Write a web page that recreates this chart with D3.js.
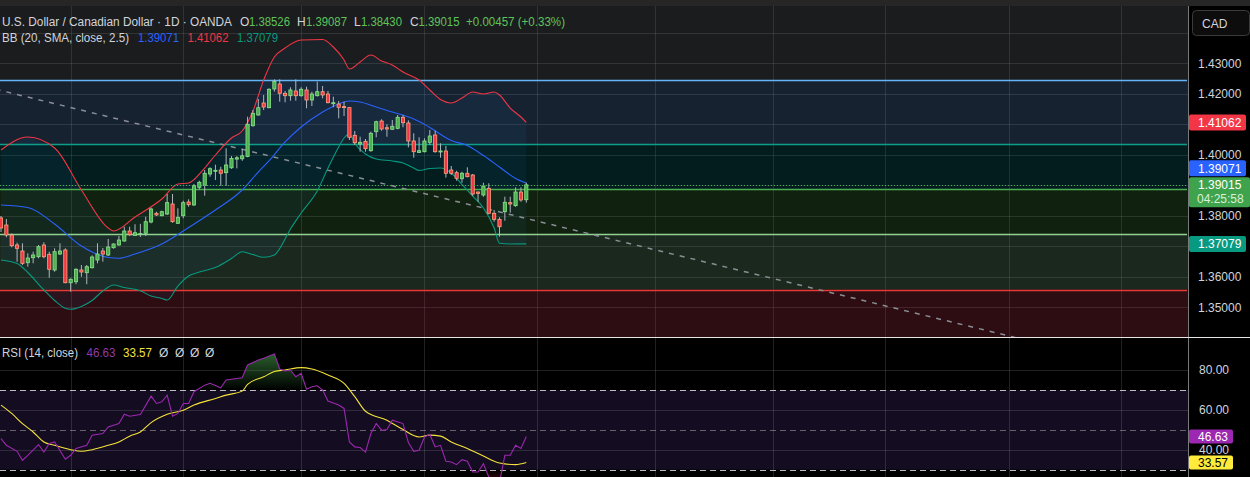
<!DOCTYPE html>
<html>
<head>
<meta charset="utf-8">
<script src="https://cdn.jsdelivr.net/npm/d3@7"></script>
<style>
body { margin:0; background:#000; overflow:hidden; }
text { font-family:"Liberation Sans", Arial, sans-serif; }
</style>
</head>
<body>
<div id="container"></div>
<script>
// daily candles, USD/CAD (bar 0 = first visible bar)
var opens = [1.3793,1.37698,1.3737,1.37043,1.36846,1.36462,1.36626,1.36659,1.37043,1.36738,
	1.36223,1.36747,1.36879,1.35806,1.35839,1.36223,1.36134,1.36298,1.36551,1.36846,
	1.36715,1.36954,1.37043,1.37174,1.37501,1.3736,1.3739,1.37426,1.37797,1.38082,
	1.38003,1.38059,1.38387,1.37754,1.38003,1.38453,1.38354,1.38934,1.39,1.39371,
	1.39459,1.39502,1.39414,1.39574,1.39859,1.39869,1.39941,1.40954,1.41305,1.41698,
	1.41544,1.42157,1.42321,1.42016,1.41938,1.42092,1.41938,1.42125,1.41797,1.41938,
	1.42069,1.41994,1.41689,1.41665,1.4158,1.41547,1.40639,1.40354,1.40442,1.40134,
	1.40757,1.41108,1.40888,1.40836,1.40869,1.4123,1.41043,1.40453,1.40079,1.40101,
	1.4041,1.40649,1.40092,1.40125,1.39502,1.39414,1.39216,1.39394,1.39338,1.3878,
	1.38682,1.38902,1.38082,1.37885,1.38134,1.3843,1.38331,1.3878,1.38526];
var highs = [1.37993,1.37895,1.37426,1.37118,1.37098,1.3677,1.36823,1.37043,1.37131,1.36823,
	1.36934,1.37098,1.36934,1.35951,1.36279,1.36387,1.36387,1.36705,1.37098,1.36944,
	1.37239,1.37098,1.37338,1.37642,1.37642,1.37721,1.37737,1.3797,1.38266,1.38134,
	1.38167,1.38715,1.38715,1.38246,1.38495,1.38541,1.39043,1.39151,1.39502,1.39591,
	1.39676,1.39607,1.40213,1.39958,1.39958,1.402,1.41249,1.41469,1.41829,1.41961,
	1.4218,1.42475,1.42475,1.42092,1.42213,1.42475,1.42213,1.42233,1.42069,1.42397,
	1.42256,1.42092,1.41905,1.41764,1.41741,1.41557,1.4078,1.40593,1.40518,1.40757,
	1.41118,1.41164,1.41,1.41141,1.41305,1.41305,1.41131,1.40705,1.40574,1.40541,
	1.40813,1.4079,1.40377,1.40289,1.39633,1.39479,1.39446,1.3959,1.39371,1.38797,
	1.39085,1.39066,1.3819,1.37951,1.38626,1.38626,1.38934,1.38934,1.39087];
var lows = [1.37469,1.37295,1.36967,1.36495,1.36387,1.36331,1.36442,1.36606,1.36606,1.3597,
	1.36167,1.36715,1.35787,1.35511,1.35757,1.36003,1.35757,1.36272,1.36442,1.36495,
	1.36682,1.36921,1.3702,1.37151,1.37338,1.37338,1.37305,1.37338,1.37754,1.37993,
	1.37984,1.38026,1.37774,1.37731,1.37918,1.38298,1.38331,1.38869,1.38659,1.39282,
	1.39174,1.38987,1.38987,1.39541,1.39554,1.39803,1.39921,1.40921,1.41282,1.41469,
	1.41525,1.42069,1.41741,1.41721,1.41774,1.41774,1.41905,1.41525,1.416,1.41912,
	1.41849,1.41689,1.41557,1.41196,1.41272,1.40485,1.40321,1.40101,1.40101,1.40101,
	1.40574,1.4079,1.40593,1.40813,1.40836,1.40902,1.40245,1.39905,1.40059,1.40079,
	1.40321,1.40069,1.39905,1.39253,1.39338,1.39151,1.39085,1.39262,1.38649,1.38459,
	1.38626,1.38049,1.37806,1.37318,1.37839,1.38102,1.38298,1.38462,1.3843];
var closes = [1.376,1.3737,1.3702,1.36934,1.36442,1.36616,1.36715,1.36987,1.36659,1.36246,
	1.36823,1.36846,1.35806,1.35918,1.36246,1.36157,1.36331,1.36649,1.36747,1.36747,
	1.36977,1.37075,1.37207,1.37501,1.3738,1.37445,1.3742,1.37806,1.38223,1.38026,
	1.38134,1.3843,1.37806,1.37951,1.3843,1.38364,1.38987,1.39098,1.39394,1.39545,
	1.39492,1.39394,1.39666,1.39882,1.39902,1.39967,1.41,1.41361,1.41544,1.41567,
	1.42148,1.42403,1.42016,1.41938,1.42125,1.41938,1.42148,1.41797,1.41994,1.42069,
	1.41961,1.41708,1.41708,1.41557,1.41547,1.40574,1.40396,1.4041,1.402,1.40705,
	1.41085,1.40846,1.40846,1.40934,1.4123,1.41052,1.40453,1.40101,1.40134,1.40453,
	1.40616,1.40101,1.40125,1.39394,1.39394,1.3923,1.39394,1.39282,1.38715,1.38737,
	1.38977,1.38082,1.37885,1.37642,1.38443,1.38387,1.3878,1.38518,1.39015];

// Bollinger Bands (20, 2.5) at these bars
var upperIdx = [0,5,10,15,20,21,25,30,33,35,38,40,43,45,47,49,51,53,56,60,62,64,65,67,69,71,73,75,78,80,82,84,86,88,90,92,93,95,97,98];
var upperVal = [1.40157,1.40584,1.40223,1.38846,1.376,1.37502,1.37961,1.38551,1.39043,1.39075,1.39567,1.39993,1.40551,1.4078,1.41436,1.42452,1.43207,1.43502,1.43764,1.4378,1.43534,1.43108,1.42813,1.43043,1.43272,1.43075,1.42944,1.42715,1.42452,1.42125,1.41813,1.41698,1.41862,1.42059,1.41993,1.42059,1.41961,1.41534,1.41239,1.41062];
var basisIdx = [0,5,10,15,20,22,25,30,35,40,45,48,50,53,56,60,63,65,67,70,73,75,78,80,84,87,90,93,96,98];
var basisVal = [1.38354,1.38272,1.37731,1.3701,1.36633,1.36607,1.36748,1.37075,1.37616,1.3819,1.38846,1.39436,1.39797,1.4042,1.40911,1.41403,1.41666,1.41764,1.41731,1.41567,1.41403,1.41305,1.41092,1.40895,1.40469,1.40305,1.39977,1.396,1.39223,1.39071];
var lowerIdx = [0,3,5,8,10,12,13,15,17,19,21,23,26,28,30,31,33,35,37,40,43,45,47,49,51,52,54,56,59,61,63,64,65,66,68,70,73,75,77,78,80,82,84,86,88,90,92,93,95,98];
var lowerVal = [1.36551,1.36436,1.36141,1.35567,1.35223,1.34967,1.34934,1.35026,1.35223,1.35534,1.35731,1.35649,1.35541,1.3537,1.35289,1.35239,1.35698,1.36026,1.36157,1.36305,1.366,1.3682,1.36731,1.36639,1.36715,1.36928,1.37567,1.38092,1.38813,1.39567,1.40256,1.40551,1.40682,1.4037,1.40026,1.39862,1.39797,1.39731,1.39567,1.39485,1.39551,1.39567,1.39403,1.39026,1.38649,1.38256,1.376,1.37098,1.37075,1.37079];

// RSI (14) and its moving average
var rsiIdx = [0,1,3,4,5,7,8,9,10,12,13,14,16,17,19,20,22,23,24,26,28,29,30,31,32,33,34,35,36,38,39,41,42,45,46,48,49,51,52,53,54,55,56,57,58,59,60,61,63,64,65,66,67,68,69,70,71,72,73,75,76,77,78,79,80,81,82,83,84,85,86,87,88,89,90,91,92,93,94,95,96,97,98];
var rsiVal = [45.6,42.2,39.2,34.7,37.2,42.6,38.8,43.1,43.9,35.2,37.2,40.6,42.2,47.3,48.1,51.4,53.1,57.8,56.8,57.7,66.9,63.2,64.0,67.4,56.8,58.2,63.2,63.2,69.1,72.4,73.3,71.1,75.0,76.1,82.5,85.0,85.9,88.1,80.5,79.5,80.0,76.6,78.3,70.4,71.6,72.1,69.9,64.4,62.4,60.7,43.9,41.4,41.1,38.8,48.1,53.1,49.8,50.1,54.8,53.1,43.6,39.2,39.7,46.4,47.6,41.4,42.2,34.2,33.8,32.5,35.0,34.2,28.8,28.8,33.0,26.3,24.8,23.5,37.2,37.2,42.2,40.6,46.63];
var maIdx = [0,2,4,6,8,10,13,15,17,20,22,24,26,28,31,34,36,40,42,45,46,49,51,53,56,58,61,64,66,68,72,75,78,80,82,84,87,90,93,96,98];
var maVal = [62.4,58.2,53.1,48.9,43.9,42.2,40.0,39.2,40.0,42.2,43.9,46.8,48.9,53.6,57.8,59.8,62.4,65.7,67.4,69.4,72.8,76.6,79.2,80.0,81.2,80.5,77.5,73.3,66.6,59.3,54.8,50.1,46.4,47.3,46.8,43.9,40.6,36.8,33.3,32.5,33.57];

// horizontal levels drawn on the chart, top to bottom
var levelPrices = [1.42443, 1.40344, 1.38869, 1.37413, 1.35577];
var levelColors = ["#64b5f6", "#0d9e8a", "#4caf50", "#8fd18f", "#e53935"];
var zoneColors = ["#172231", "#031c1e", "#112110", "#1b281d", "#2d0c12"];
// dashed trend line anchors (bar, price)
var trendBars = [-1, 190];
var trendPrices = [1.42148, 1.33977];

var gridPrices = [1.44, 1.43, 1.42, 1.41, 1.40, 1.39, 1.38, 1.37, 1.36, 1.35];
var priceTicks = [1.43, 1.42, 1.40, 1.38, 1.36, 1.35];
var monthBars = [13, 34, 56, 79, 100, 122, 144, 165, 188, 209];
var rsiGrid = [80, 60, 40];
var rsiLevels = [70, 50, 30];

var W = 1250, H = 477;
var plotW = 1188, paneTop = 6, paneBot = 337, rsiTop = 338;
var FS = 12;

var svg = d3.select("#container").append("svg")
	.attr("width", W)
	.attr("height", H);

var x = d3.scaleLinear().domain([0, 98]).range([1, 526.3]);
var y = d3.scaleLinear().domain([1.35, 1.43]).range([307.3, 63.3]);
var yr = d3.scaleLinear().domain([40, 80]).range([449.7, 370]);

var defs = svg.append("defs");
defs.append("clipPath").attr("id", "clipPrice").append("rect")
	.attr("x", 0).attr("y", paneTop).attr("width", plotW).attr("height", paneBot - paneTop);
defs.append("clipPath").attr("id", "clipRsi").append("rect")
	.attr("x", 0).attr("y", rsiTop).attr("width", plotW).attr("height", H - rsiTop);
defs.append("clipPath").attr("id", "clipOB").append("rect")
	.attr("x", 0).attr("y", rsiTop).attr("width", plotW).attr("height", yr(70) - rsiTop);
defs.append("clipPath").attr("id", "clipOS").append("rect")
	.attr("x", 0).attr("y", yr(30)).attr("width", plotW).attr("height", H - yr(30));

var gOB = defs.append("linearGradient").attr("id", "gradOB")
	.attr("gradientUnits", "userSpaceOnUse").attr("x1", 0).attr("x2", 0)
	.attr("y1", yr(90)).attr("y2", yr(70));
gOB.append("stop").attr("offset", 0).attr("stop-color", "rgba(76,175,80,0.6)");
gOB.append("stop").attr("offset", 1).attr("stop-color", "rgba(76,175,80,0)");
var gOS = defs.append("linearGradient").attr("id", "gradOS")
	.attr("gradientUnits", "userSpaceOnUse").attr("x1", 0).attr("x2", 0)
	.attr("y1", yr(30)).attr("y2", yr(15));
gOS.append("stop").attr("offset", 0).attr("stop-color", "rgba(242,54,69,0)");
gOS.append("stop").attr("offset", 1).attr("stop-color", "rgba(242,54,69,0.6)");

// backgrounds
svg.append("rect").attr("width", W).attr("height", H).attr("fill", "#000");
svg.append("rect").attr("width", W).attr("height", paneTop).attr("fill", "#262626");
svg.append("rect").attr("x", 0).attr("y", paneTop).attr("width", plotW).attr("height", paneBot - paneTop).attr("fill", "#1b1c1e");

// ---------- price pane ----------
var pp = svg.append("g").attr("clip-path", "url(#clipPrice)");

var zoneTops = levelPrices.map(function(p) { return y(p); });
pp.selectAll("rect.zone").data(zoneColors).enter().append("rect")
	.attr("x", 0)
	.attr("y", function(d, i) { return zoneTops[i]; })
	.attr("width", plotW)
	.attr("height", function(d, i) { return (i < zoneTops.length - 1 ? zoneTops[i + 1] : paneBot) - zoneTops[i]; })
	.attr("fill", function(d) { return d; });

pp.selectAll("line.hgrid").data(gridPrices).enter().append("line")
	.attr("x1", 0).attr("x2", plotW)
	.attr("y1", function(d) { return Math.round(y(d)) + 0.5; })
	.attr("y2", function(d) { return Math.round(y(d)) + 0.5; })
	.attr("stroke", "rgba(255,255,255,0.1)");
pp.selectAll("line.vgrid").data(monthBars).enter().append("line")
	.attr("x1", function(d) { return Math.round(x(d)) + 0.5; })
	.attr("x2", function(d) { return Math.round(x(d)) + 0.5; })
	.attr("y1", paneTop).attr("y2", paneBot)
	.attr("stroke", "rgba(255,255,255,0.1)");

// band fill
var upperPts = d3.zip(upperIdx, upperVal);
var basisPts = d3.zip(basisIdx, basisVal);
var lowerPts = d3.zip(lowerIdx, lowerVal);
var polyLine = d3.line().x(function(d) { return x(d[0]); }).y(function(d) { return y(d[1]); });
pp.append("path")
	.attr("d", polyLine(upperPts.concat(lowerPts.slice().reverse())) + "Z")
	.attr("fill", "rgba(33,150,243,0.06)");

pp.selectAll("line.level").data(levelPrices).enter().append("line")
	.attr("x1", 0).attr("x2", plotW - 1)
	.attr("y1", function(d) { return Math.round(y(d)) + 0.5; })
	.attr("y2", function(d) { return Math.round(y(d)) + 0.5; })
	.attr("stroke", function(d, i) { return levelColors[i]; })
	.attr("stroke-width", 1.3);

pp.append("line")
	.attr("x1", x(trendBars[0])).attr("y1", y(trendPrices[0]))
	.attr("x2", x(trendBars[1])).attr("y2", y(trendPrices[1]))
	.attr("stroke", "#8a8d96").attr("stroke-width", 1.5)
	.attr("stroke-dasharray", "5,6");

var smooth = d3.line().x(function(d) { return x(d[0]); }).y(function(d) { return y(d[1]); }).curve(d3.curveMonotoneX);
[[upperPts, "#f23645"], [basisPts, "#2962ff"], [lowerPts, "#089981"]].forEach(function(b) {
	pp.append("path").attr("d", smooth(b[0])).attr("fill", "none")
		.attr("stroke", b[1]).attr("stroke-width", 1.1);
});

var candles = opens.map(function(o, i) {
	return { i: i, o: o, h: highs[i], l: lows[i], c: closes[i] };
});
pp.selectAll("line.wick").data(candles).enter().append("line")
	.attr("x1", function(d) { return x(d.i); })
	.attr("x2", function(d) { return x(d.i); })
	.attr("y1", function(d) { return y(d.h); })
	.attr("y2", function(d) { return y(d.l); })
	.attr("stroke", "#b2b5be").attr("stroke-width", 1);
pp.selectAll("rect.body").data(candles).enter().append("rect")
	.attr("x", function(d) { return x(d.i) - 1.6; })
	.attr("width", 3.2)
	.attr("y", function(d) { return y(Math.max(d.o, d.c)); })
	.attr("height", function(d) { return Math.max(1, Math.abs(y(d.o) - y(d.c))); })
	.attr("fill", function(d) { return d.c >= d.o ? "#4caf50" : "#f23645"; })
	.attr("stroke", function(d) { return d.c >= d.o ? "#8be38b" : "#ffa47e"; })
	.attr("stroke-width", 0.8);

var lastClose = closes[closes.length - 1];
pp.append("line")
	.attr("x1", 0).attr("x2", plotW)
	.attr("y1", Math.round(y(lastClose)) + 0.5).attr("y2", Math.round(y(lastClose)) + 0.5)
	.attr("stroke", "#4caf50").attr("stroke-dasharray", "1,2");

// legend
function txt(g, s, tx, ty, col, size, fit) {
	var t = g.append("text").attr("x", tx).attr("y", ty).attr("fill", col)
		.attr("font-size", size || FS).text(s);
	if (fit) t.attr("textLength", fit).attr("lengthAdjust", "spacingAndGlyphs");
	return t;
}
var up = "#5ec45a", fg = "#d1d4dc";
txt(svg, "U.S. Dollar / Canadian Dollar \u00b7 1D \u00b7 OANDA", 2, 26, fg, FS, 230);
txt(svg, "O", 240, 26, fg); txt(svg, "1.38526", 249, 26, up, FS, 41);
txt(svg, "H", 297, 26, fg); txt(svg, "1.39087", 306, 26, up, FS, 41);
txt(svg, "L", 354, 26, fg); txt(svg, "1.38430", 361, 26, up, FS, 41);
txt(svg, "C", 410, 26, fg); txt(svg, "1.39015", 418.5, 26, up, FS, 41);
txt(svg, "+0.00457 (+0.33%)", 466, 26, up, FS, 99);
txt(svg, "BB (20, SMA, close, 2.5)", 2, 42, fg, FS, 127);
txt(svg, "1.39071", 138, 42, "#2962ff", FS, 41);
txt(svg, "1.41062", 187.5, 42, "#f23645", FS, 41);
txt(svg, "1.37079", 237, 42, "#089981", FS, 41);

// ---------- RSI pane ----------
var rp = svg.append("g").attr("clip-path", "url(#clipRsi)");
rp.append("rect").attr("x", 0).attr("y", yr(70)).attr("width", plotW)
	.attr("height", yr(30) - yr(70)).attr("fill", "#140c21");
rp.selectAll("line.rgrid").data(rsiGrid).enter().append("line")
	.attr("x1", 0).attr("x2", plotW)
	.attr("y1", function(d) { return Math.round(yr(d)) + 0.5; })
	.attr("y2", function(d) { return Math.round(yr(d)) + 0.5; })
	.attr("stroke", "rgba(255,255,255,0.13)");
rp.selectAll("line.rvgrid").data(monthBars).enter().append("line")
	.attr("x1", function(d) { return Math.round(x(d)) + 0.5; })
	.attr("x2", function(d) { return Math.round(x(d)) + 0.5; })
	.attr("y1", rsiTop).attr("y2", H)
	.attr("stroke", "rgba(255,255,255,0.13)");
rp.selectAll("line.rlevel").data(rsiLevels).enter().append("line")
	.attr("x1", 0).attr("x2", plotW)
	.attr("y1", function(d) { return Math.round(yr(d)) + 0.5; })
	.attr("y2", function(d) { return Math.round(yr(d)) + 0.5; })
	.attr("stroke", function(d) { return d === 50 ? "rgba(200,200,200,0.45)" : "rgba(220,220,220,0.85)"; })
	.attr("stroke-dasharray", "6,4");

var rsiPts = d3.zip(rsiIdx, rsiVal);
var maPts = d3.zip(maIdx, maVal);
var rsiArea70 = d3.area().x(function(d) { return x(d[0]); }).y0(yr(70)).y1(function(d) { return yr(d[1]); });
var rsiArea30 = d3.area().x(function(d) { return x(d[0]); }).y0(yr(30)).y1(function(d) { return yr(d[1]); });
rp.append("path").attr("d", rsiArea70(rsiPts)).attr("fill", "url(#gradOB)").attr("clip-path", "url(#clipOB)");
rp.append("path").attr("d", rsiArea30(rsiPts)).attr("fill", "url(#gradOS)").attr("clip-path", "url(#clipOS)");
var rline = d3.line().x(function(d) { return x(d[0]); }).y(function(d) { return yr(d[1]); });
rp.append("path").attr("d", rline.curve(d3.curveMonotoneX)(maPts)).attr("fill", "none")
	.attr("stroke", "#f5e33b").attr("stroke-width", 1.1);
rp.append("path").attr("d", rline.curve(d3.curveLinear)(rsiPts)).attr("fill", "none")
	.attr("stroke", "#9c27b0").attr("stroke-width", 1.1);

txt(svg, "RSI (14, close)", 2, 357, fg, FS, 76);
txt(svg, "46.63", 86.5, 357, "#8e3aa8", FS, 29);
txt(svg, "33.57", 123, 357, "#f5e33b", FS, 29);
[159, 175, 190, 205].forEach(function(px) { txt(svg, "\u00d8", px, 357, fg); });

// ---------- price axis ----------
svg.append("rect").attr("x", plotW).attr("y", paneTop).attr("width", W - plotW).attr("height", H - paneTop).attr("fill", "#000");
svg.append("line").attr("x1", plotW + 0.5).attr("x2", plotW + 0.5).attr("y1", paneTop).attr("y2", H)
	.attr("stroke", "#7a7a7a");
svg.append("rect").attr("x", 1192.5).attr("y", 10.5).attr("width", 57).attr("height", 25)
	.attr("rx", 4).attr("fill", "#0d0d0d").attr("stroke", "#3a3a3a");
txt(svg, "CAD", 1202, 27.5, fg, 12);

svg.selectAll("text.ptick").data(priceTicks).enter().append("text")
	.attr("x", 1198).attr("y", function(d) { return y(d); })
	.attr("dy", "0.35em").attr("font-size", FS).attr("fill", fg)
	.text(function(d) { return d3.format(".5f")(d); });
svg.selectAll("text.rtick").data(rsiGrid).enter().append("text")
	.attr("x", 1199).attr("y", function(d) { return yr(d); })
	.attr("dy", "0.35em").attr("font-size", FS).attr("fill", fg)
	.text(function(d) { return d3.format(".2f")(d); });

function badge(cy, h, w, bg, col, label) {
	svg.append("rect").attr("x", plotW + 1).attr("y", cy - h / 2).attr("width", w).attr("height", h)
		.attr("rx", 2).attr("fill", bg);
	svg.append("text").attr("x", 1198).attr("y", cy).attr("dy", "0.35em")
		.attr("font-size", FS).attr("fill", col).text(label);
}
var upperLast = upperVal[upperVal.length - 1];
var basisLast = basisVal[basisVal.length - 1];
var lowerLast = lowerVal[lowerVal.length - 1];
badge(y(upperLast), 16, 57, "#f23645", "#fff", d3.format(".5f")(upperLast));
badge(y(lowerLast), 16, 57, "#089981", "#fff", d3.format(".5f")(lowerLast));
// last price badge with countdown
var lpTop = y(lastClose) - 7.5;
svg.append("rect").attr("x", plotW + 1).attr("y", lpTop).attr("width", W - plotW - 1).attr("height", 30)
	.attr("rx", 2).attr("fill", "#3fa34d");
txt(svg, d3.format(".5f")(lastClose), 1198, lpTop + 12, "#fff");
txt(svg, "04:25:58", 1197, lpTop + 26, "#d8f0d8");
badge(Math.min(y(basisLast), lpTop - 9), 16, 57, "#2962ff", "#fff", d3.format(".5f")(basisLast));
var rsiLast = rsiVal[rsiVal.length - 1], maLast = maVal[maVal.length - 1];
badge(yr(rsiLast), 14, 44, "#9c27b0", "#fff", d3.format(".2f")(rsiLast));
badge(yr(maLast), 14, 44, "#ffeb3b", "#000", d3.format(".2f")(maLast));

// pane separator
svg.append("line").attr("x1", 0).attr("x2", W).attr("y1", paneBot + 0.5).attr("y2", paneBot + 0.5)
	.attr("stroke", "#e6e6e6").attr("stroke-width", 1.2);
</script>
</body>
</html>
